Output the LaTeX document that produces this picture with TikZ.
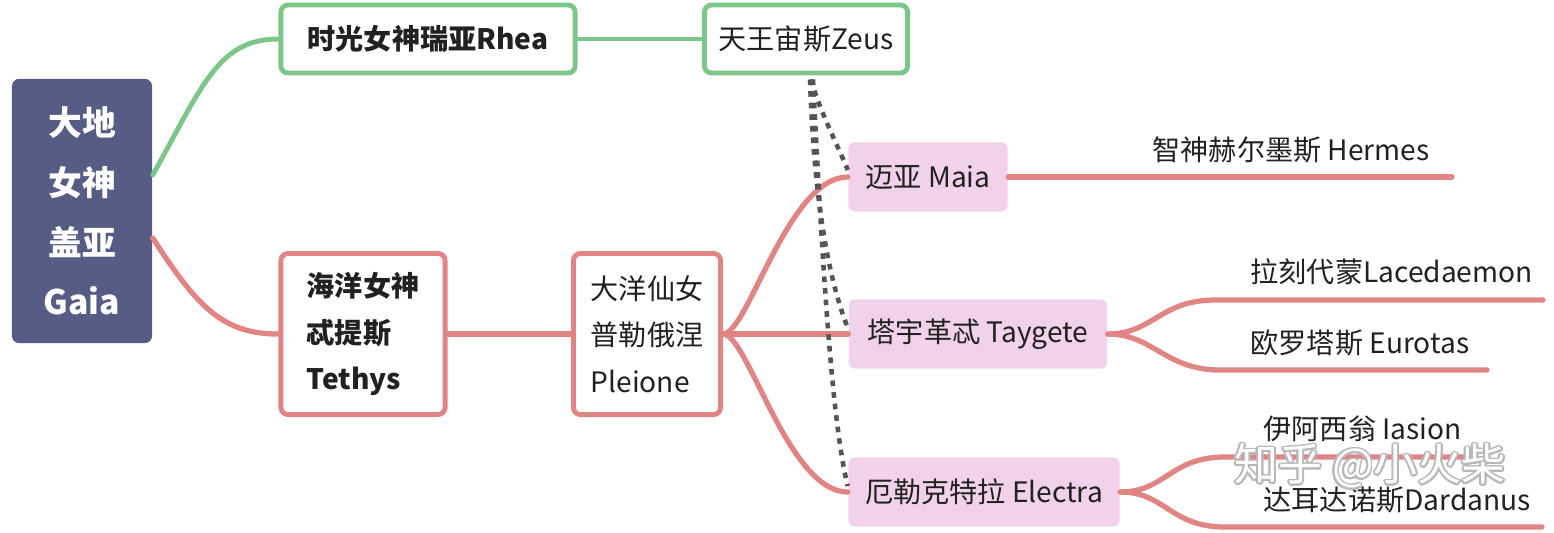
\documentclass[tikz,border=0pt]{standalone}
\usepackage{fontspec}
\setmainfont{Noto Sans CJK SC}
\usepackage[copies]{contour}
\contourlength{0.5pt}
\definecolor{rootblue}{HTML}{575C85}
\definecolor{linegreen}{HTML}{7CC68A}
\definecolor{linepink}{HTML}{E08484}
\definecolor{tagpink}{HTML}{F2D2EA}
\definecolor{dotgray}{HTML}{555555}
\tikzstyle{every node}=[font=\fontsize{8}{13.2}\selectfont,text=black!87,inner sep=0pt]
\tikzstyle{every path}=[line cap=round,line join=round]
\tikzstyle{rootbox}=[fill=rootblue,rounded corners=2pt,text=white,align=center,
    minimum width=1.4cm,minimum height=2.64cm,font=\fontsize{9.6}{17}\selectfont\bfseries]
\tikzstyle{greenbox}=[draw=linegreen,fill=white,line width=1.4pt,rounded corners=2pt,minimum height=0.68cm]
\tikzstyle{pinkbox}=[draw=linepink,fill=white,line width=1.4pt,rounded corners=2pt,align=left,minimum height=1.61cm]
\tikzstyle{tagbox}=[fill=tagpink,rounded corners=1.5pt,minimum height=0.69cm]
\tikzstyle{leaf}=[anchor=west]
\tikzstyle{greenline}=[draw=linegreen,line width=1.4pt]
\tikzstyle{pinkline}=[draw=linepink,line width=1.5pt]
\tikzstyle{zeusline}=[draw=dotgray,line width=1.3pt,line cap=butt,dash pattern=on 1.6pt off 1.7pt]

\begin{document}
\begin{tikzpicture}[x=0.01cm,y=-0.01cm]
    \useasboundingbox (0,0) rectangle (1554,532);

    % Gaia and her two daughters
    \node[rootbox] (gaia) at (82,211) {大地\\女神\\盖亚\\Gaia};
    \node[greenbox,minimum width=2.94cm] (rhea) at (428,39) {\bfseries 时光女神瑞亚Rhea};
    \node[greenbox,minimum width=2.03cm] (zeus) at (806,39) {天王宙斯Zeus};
    \node[pinkbox,minimum width=1.64cm,font=\fontsize{8}{13.2}\selectfont\bfseries] (tethys) at (363,334) {海洋女神\\忒提斯\\Tethys};
    \node[pinkbox,minimum width=1.47cm] (pleione) at (647,334) {大洋仙女\\普勒俄涅\\Pleione};

    % Pleiades
    \node[tagbox,minimum width=1.59cm] (maia) at (928,177) {迈亚 Maia};
    \node[tagbox,minimum width=2.58cm] (taygete) at (978,334) {塔宇革忒 Taygete};
    \node[tagbox,minimum width=2.71cm] (electra) at (984,492) {厄勒克特拉 Electra};

    % their sons
    \node[leaf] (hermes) at (1152,150) {智神赫尔墨斯 Hermes};
    \node[leaf] (lacedaemon) at (1250,272) {拉刻代蒙Lacedaemon};
    \node[leaf] (eurotas) at (1250,343) {欧罗塔斯 Eurotas};
    \node[leaf] (iasion) at (1263,429) {伊阿西翁 Iasion};
    \node[leaf] (dardanus) at (1263,500) {达耳达诺斯Dardanus};
    \coordinate (hermes-end) at (1452,177);
    \coordinate (lace-a) at (1215,300);
    \coordinate (lace-b) at (1543,300);
    \coordinate (euro-a) at (1220,370);
    \coordinate (euro-b) at (1487,370);
    \coordinate (ias-a) at (1225,457);
    \coordinate (ias-b) at (1472,457);
    \coordinate (dar-a) at (1225,527);
    \coordinate (dar-b) at (1542,527);

    % --Rhea branch
    \draw[greenline] ([yshift=0.36cm]gaia.east) .. controls +(50,-90) and +(-60,0) .. (rhea.west);
    \draw[greenline] (rhea.east) -- (zeus.west);

    % --Tethys branch
    \draw[pinkline] ([yshift=-0.27cm]gaia.east) .. controls +(45,70) and +(-55,0) .. (tethys.west);
    \draw[pinkline] (tethys.east) -- (pleione.east -| pleione.west);
    \draw[pinkline] (pleione.east) .. controls +(25,0) and +(-60,0) .. (maia.west);
    \draw[pinkline] (pleione.east) -- (taygete.west);
    \draw[pinkline] (pleione.east) .. controls +(25,0) and +(-60,0) .. (electra.west);

    % --grandsons
    \draw[pinkline] (maia.east) -- (hermes-end);
    \draw[pinkline] (taygete.east) .. controls +(45,0) and +(-55,0) .. (lace-a) -- (lace-b);
    \draw[pinkline] (taygete.east) .. controls +(45,0) and +(-55,0) .. (euro-a) -- (euro-b);
    \draw[pinkline] (electra.east) .. controls +(45,0) and +(-55,0) .. (ias-a) -- (ias-b);
    \draw[pinkline] (electra.east) .. controls +(45,0) and +(-55,0) .. (dar-a) -- (dar-b);

    % Zeus is the father
    \draw[zeusline] ([xshift=0.05cm,yshift=-0.04cm]zeus.south) .. controls +(8,30) and +(-8,-20) .. ([yshift=0.07cm]maia.west);
    \draw[zeusline] ([xshift=0.04cm,yshift=-0.04cm]zeus.south) .. controls +(4,120) and +(-20,-50) .. ([yshift=0.05cm]taygete.west);
    \draw[zeusline] ([xshift=0.07cm,yshift=-0.04cm]zeus.south) .. controls +(10,200) and +(-15,-60) .. ([yshift=0.06cm]electra.west);

    % watermark
    \node[text=white,font=\fontsize{12.5}{13}\selectfont] (mark) at (1370,467) {\contour{black!28}{知乎 @小火柴}};
\end{tikzpicture}
\end{document}
